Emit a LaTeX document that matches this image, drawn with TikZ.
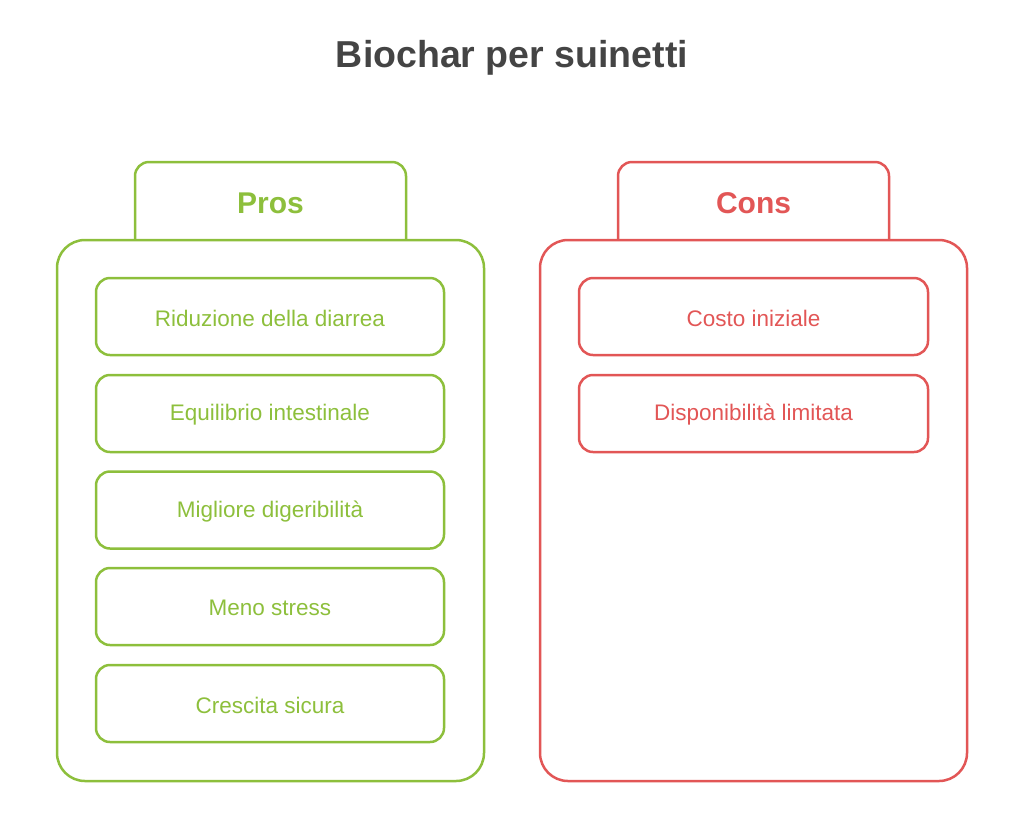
\documentclass[tikz,border=0pt]{standalone}
\usepackage{fontspec}
\setmainfont{Liberation Sans}
\definecolor{pg}{HTML}{8DBF3C}
\definecolor{cr}{HTML}{E25656}
\definecolor{tt}{HTML}{444444}
\begin{document}
\begin{tikzpicture}[x=1pt,y=-1pt,
  big/.style={line width=2.5pt,rounded corners=28pt},
  item/.style={line width=2.5pt,rounded corners=14pt},
  lbl/.style={font=\fontsize{22.5}{26}\selectfont},
  hd/.style={font=\fontsize{30}{34}\selectfont\bfseries}]
\useasboundingbox (0,0) rectangle (1024,823);
\node[font=\fontsize{37.5}{42}\selectfont\bfseries,text=tt] (title) at (512,58) {Biochar per suinetti};
% Pros
\draw[big,pg] (57,240) rectangle (484,781);
\draw[pg,line width=2.5pt,rounded corners=14pt] (135,240) -- (135,162) -- (406,162) -- (406,240);
\node[hd,text=pg] (pros) at (270.5,203) {Pros};
\foreach \y/\t [count=\i] in {316.5/Riduzione della diarrea,413.5/Equilibrio intestinale,510/Migliore digeribilità,606.5/Meno stress,703.5/Crescita sicura}{
  \draw[item,pg] (96,\y-38.5) rectangle (444,\y+38.5);
  \node[lbl,text=pg] (p\i) at (270,\y+1.5) {\t};
}
% Cons
\draw[big,cr] (540,240) rectangle (967,781);
\draw[cr,line width=2.5pt,rounded corners=14pt] (618,240) -- (618,162) -- (889,162) -- (889,240);
\node[hd,text=cr] (cons) at (753.5,203) {Cons};
\foreach \y/\t [count=\i] in {316.5/Costo iniziale,413.5/Disponibilità limitata}{
  \draw[item,cr] (579,\y-38.5) rectangle (928,\y+38.5);
  \node[lbl,text=cr] (c\i) at (753.5,\y+1.5) {\t};
}
\end{tikzpicture}
\end{document}
